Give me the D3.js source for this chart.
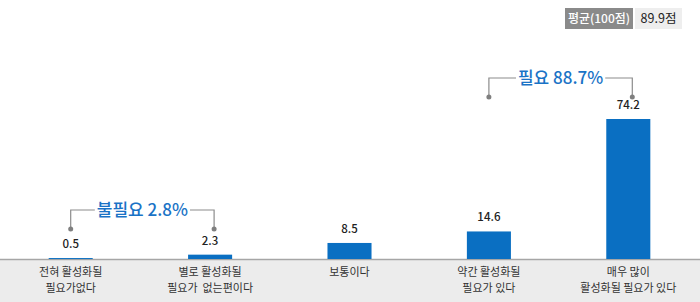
<!DOCTYPE html>
<html><head><meta charset="utf-8">
<script src="https://cdn.jsdelivr.net/npm/d3@7"></script>
<style>body{margin:0;background:#fff}svg{display:block}text{font-family:"Noto Sans CJK KR","Noto Sans",sans-serif}</style>
</head><body><svg id="c" width="700" height="302"></svg>
<script>
const categories = [["전혀 활성화될","필요가없다"],["별로 활성화될","필요가  없는편이다"],["보통이다"],["약간 활성화될","필요가 있다"],["매우 많이","활성화될 필요가 있다"]];
const values = [0.5, 2.3, 8.5, 14.6, 74.2];
const groups = [{label:"불필요 2.8%", from:0, to:1, lineY:210, dotY:229},{label:"필요 88.7%", from:3, to:4, lineY:78, dotY:97}];
const avgLabel = "평균(100점)", avgValue = "89.9점";

const svg = d3.select("#c");
const W = 700, H = 302, base = 259;
const x = d3.scaleBand().domain(d3.range(values.length)).range([1, 698]).paddingInner(0.684).paddingOuter(0.342);
const y = d3.scaleLinear().domain([0, 74.2]).range([base, 119]);

// axis band
svg.append("rect").attr("x",0).attr("y",base).attr("width",W).attr("height",H-base).attr("fill","#ececec");
svg.append("line").attr("x1",0).attr("x2",W).attr("y1",base+0.5).attr("y2",base+0.5).attr("stroke","#a6a6a6").attr("stroke-width",1.5);

svg.selectAll("rect.bar").data(values).join("rect").attr("class","bar")
  .attr("x",(d,i)=>x(i)).attr("width",x.bandwidth())
  .attr("y",d=>y(d)).attr("height",d=>Math.max(1,base-y(d))).attr("fill","#0a6fc2");

svg.selectAll("text.val").data(values).join("text").attr("class","val")
  .attr("x",(d,i)=>x(i)+x.bandwidth()/2).attr("y",d=>y(d)-10)
  .attr("text-anchor","middle").attr("font-size",11.5).attr("font-weight",500).attr("fill","#222")
  .text(d=>d.toFixed(1));

categories.forEach((lines,i)=>{
  const cx = x(i)+x.bandwidth()/2;
  const t = svg.append("text").attr("text-anchor","middle").attr("font-size",11).attr("fill","#333").style("white-space","pre");
  lines.forEach((l,j)=>t.append("tspan").attr("x",cx).attr("y",276+j*15.5).text(l));
});

// bracket annotations
groups.forEach(g=>{
  const x1 = x(g.from)+x.bandwidth()/2, x2 = x(g.to)+x.bandwidth()/2+4;
  svg.append("path").attr("d",`M${x1},${g.dotY}V${g.lineY}H${x2}V${g.dotY}`).attr("fill","none").attr("stroke","#8c8c8c").attr("stroke-width",1.2);
  [x1,x2].forEach(px=>svg.append("circle").attr("cx",px).attr("cy",g.dotY).attr("r",2.5).attr("fill","#7f7f7f"));
  const t = svg.append("text").attr("x",(x1+x2)/2).attr("y",g.lineY+6).attr("text-anchor","middle")
    .attr("font-size",17).attr("font-weight",500).attr("fill","#1a73c6").text(g.label);
  const bb = t.node().getBBox();
  svg.insert("rect", "text:last-child").attr("x",bb.x-2).attr("y",g.lineY-2).attr("width",bb.width+4).attr("height",4).attr("fill","#fff");
});

// average badge
svg.append("rect").attr("x",565).attr("y",8).attr("width",68).attr("height",21).attr("fill","#8a8a8a");
svg.append("text").attr("x",599).attr("y",23).attr("text-anchor","middle").attr("font-size",12).attr("font-weight",500).attr("fill","#fff").text(avgLabel);
svg.append("rect").attr("x",635).attr("y",8).attr("width",47).attr("height",21).attr("fill","#eeeeee");
svg.append("text").attr("x",658.5).attr("y",23).attr("text-anchor","middle").attr("font-size",12.5).attr("fill","#222").text(avgValue);
</script></body></html>
